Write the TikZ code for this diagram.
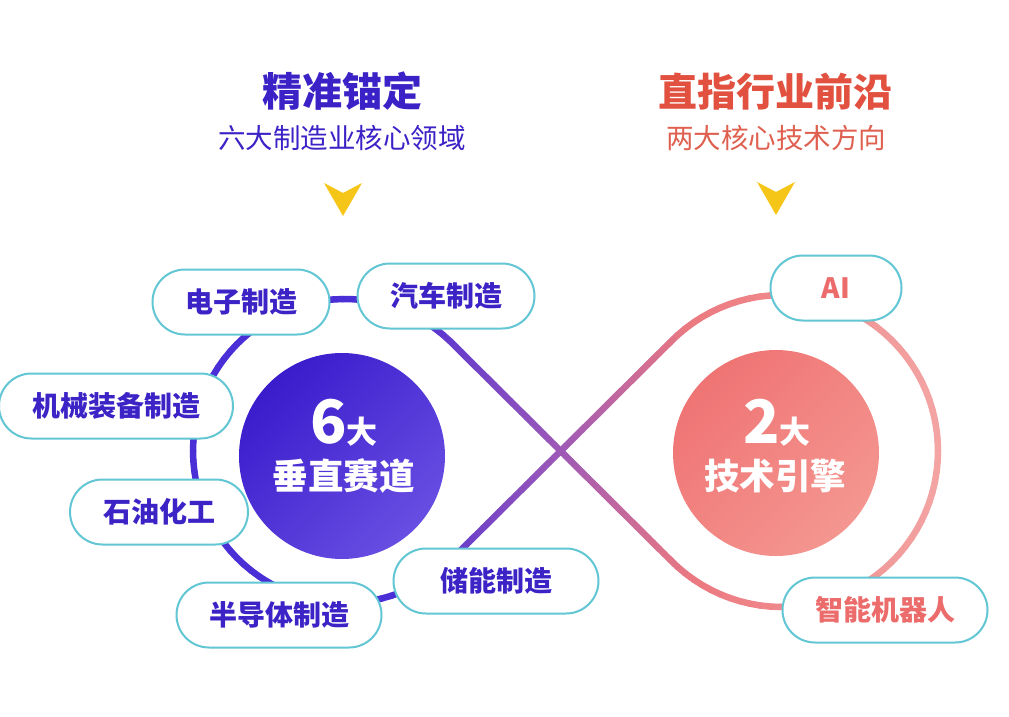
\documentclass[tikz,border=0pt]{standalone}
\usepackage{fontspec}
\setmainfont{Noto Sans CJK SC}
\usetikzlibrary{calc,shapes.misc}
\definecolor{cA}{RGB}{75,47,214}
\definecolor{cB}{RGB}{160,90,182}
\definecolor{cC}{RGB}{236,121,128}
\definecolor{cD}{RGB}{243,165,163}
\definecolor{titleblue}{RGB}{59,34,198}
\definecolor{titlered}{RGB}{226,80,63}
\definecolor{subred}{RGB}{224,96,80}
\definecolor{pilltext}{RGB}{60,35,198}
\definecolor{pillred}{RGB}{236,108,108}
\definecolor{pillborder}{RGB}{98,198,212}
\definecolor{triyellow}{RGB}{245,198,24}
\definecolor{sixdark}{RGB}{58,28,204}
\definecolor{sixlight}{RGB}{104,78,226}
\definecolor{twodark}{RGB}{239,116,116}
\definecolor{twolight}{RGB}{244,150,144}
\newcommand\setsegcolor[1]{%
  \pgfmathtruncatemacro\mypA{max(0,min(100,((#1)-400)/1.65))}%
  \pgfmathtruncatemacro\mypB{max(0,min(100,((#1)-565)/1.25))}%
  \pgfmathtruncatemacro\mypC{max(0,min(100,((#1)-690)/2.5))}%
  \colorlet{segA}{cB!\mypA!cA}%
  \colorlet{segB}{cC!\mypB!segA}%
  \colorlet{segc}{cD!\mypC!segB}%
}
\tikzset{
  loopline/.style={line width=6.5pt, line cap=round},
  pill/.style={rounded rectangle, draw=pillborder, line width=2pt, fill=white,
    minimum height=65pt, inner sep=0pt,
    font=\bfseries\fontsize{28}{28}\selectfont, text=pilltext},
  redpill/.style={pill, text=pillred},
  tri/.style={fill=triyellow},
}
\begin{document}
\begin{tikzpicture}[x=1pt,y=-1pt]
\useasboundingbox (0,0) rectangle (1009,717);
\fill[white] (0,0) rectangle (1009,717);

% infinity loop
\coordinate (T1) at (450.02,341.11);
\coordinate (T2) at (450.02,560.89);
\coordinate (T3) at (669.85,342.56);
\coordinate (T4) at (669.85,559.44);
\coordinate (X) at (565,451);

\foreach \i in {0,...,71}{
  \pgfmathsetmacro\angA{46.30+\i*3.7139}
  \pgfmathsetmacro\angB{\angA+3.7139}
  \pgfmathsetmacro\xm{345+152*cos((\angA+\angB)/2)}
  \setsegcolor{\xm}
  \draw[loopline,segc] ({345+152*cos(\angA)},{451-152*sin(\angA)}) -- ({345+152*cos(\angB)},{451-152*sin(\angB)});
}
\foreach \i in {0,...,39}{
  \pgfmathsetmacro\ta{\i/40}
  \pgfmathsetmacro\tb{(\i+1)/40}
  \pgfmathsetmacro\xm{450.02+(\i+0.5)/40*219.83}
  \setsegcolor{\xm}
  \draw[loopline,segc] ($(T1)!\ta!(T4)$) -- ($(T1)!\tb!(T4)$);
  \draw[loopline,segc] ($(T2)!\ta!(T3)$) -- ($(T2)!\tb!(T3)$);
}
\foreach \i in {0,...,71}{
  \pgfmathsetmacro\angA{135.96-\i*3.7767}
  \pgfmathsetmacro\angB{\angA-3.7767}
  \pgfmathsetmacro\xm{782+156*cos((\angA+\angB)/2)}
  \setsegcolor{\xm}
  \draw[loopline,segc] ({782+156*cos(\angA)},{451-156*sin(\angA)}) -- ({782+156*cos(\angB)},{451-156*sin(\angB)});
}

% titles
\node[anchor=base, text=titleblue, font=\bfseries\fontsize{40}{40}\selectfont] (t1) at (342,106) {精准锚定};
\node[anchor=base, text=titleblue, font=\fontsize{27.5}{27.5}\selectfont] (s1) at (342,148) {六大制造业核心领域};
\node[anchor=base, text=titlered, font=\bfseries\fontsize{39}{39}\selectfont] (t2) at (775,106) {直指行业前沿};
\node[anchor=base, text=subred, font=\fontsize{27.5}{27.5}\selectfont] (s2) at (776,148) {两大核心技术方向};

\fill[tri] (324,183) -- (343,193) -- (362,183) -- (343,216) -- cycle;
\fill[tri] (757,182) -- (776,192) -- (795,182) -- (776,215) -- cycle;

% center circles
\node[circle, minimum size=206pt, inner sep=0pt, top color=sixdark, bottom color=sixlight, shading angle=45] (c6) at (342,456) {};
\node[circle, minimum size=206pt, inner sep=0pt, top color=twodark, bottom color=twolight, shading angle=45] (c2) at (776,453) {};

\node[anchor=base, text=white, font=\bfseries] (c6a) at (344,443) {{\fontsize{60}{60}\selectfont 6}{\fontsize{31}{31}\selectfont 大}};
\node[anchor=base, text=white, font=\bfseries\fontsize{35.5}{35.5}\selectfont] (c6b) at (343.5,489) {垂直赛道};
\node[anchor=base, text=white, font=\bfseries] (c2a) at (777,443) {{\fontsize{60}{60}\selectfont 2}{\fontsize{31}{31}\selectfont 大}};
\node[anchor=base, text=white, font=\bfseries\fontsize{35.5}{35.5}\selectfont] (c2b) at (775,489) {技术引擎};

% pills
\node[pill, minimum width=177pt] (p1) at (241,302) {电子制造};
\node[pill, minimum width=177pt] (p2) at (446,296) {汽车制造};
\node[pill, minimum width=234pt] (p3) at (116,406) {机械装备制造};
\node[pill, minimum width=178pt] (p4) at (159,512) {石油化工};
\node[pill, minimum width=205pt] (p5) at (279,615) {半导体制造};
\node[pill, minimum width=205pt] (p6) at (496,581) {储能制造};
\node[redpill, minimum width=131pt] (p7) at (836,288) {AI};
\node[redpill, minimum width=205pt] (p8) at (885,610) {智能机器人};
\end{tikzpicture}
\end{document}
